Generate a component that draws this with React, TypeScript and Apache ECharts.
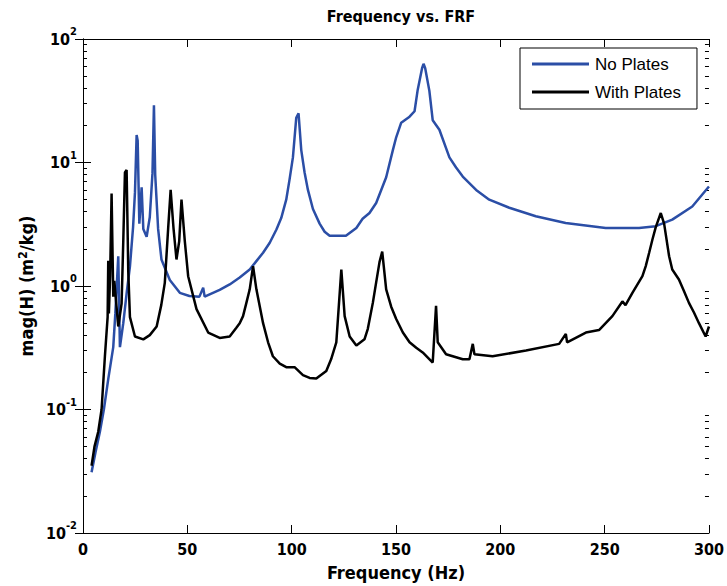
import React, { useEffect, useRef } from "react";
import * as echarts from "echarts";

const titleText = "Frequency vs. FRF";
const xName = "Frequency (Hz)";
const yName = "mag(H) (m{sup|2}/kg)";
const seriesNames = ["No Plates", "With Plates"];

const noPlatesFreq = [4.1, 6, 8.1, 10, 12.1, 14.5, 15.5, 16.9, 17.7, 19.3, 21, 22.5, 24, 24.9, 25.7, 26.2, 27, 28.1, 28.9, 30.5, 32, 33.3, 34, 34.6, 36, 37.6, 41.6, 46.4, 51, 55.8, 57.6, 58.3, 65.5, 70.3, 75.1, 79.9, 86.3, 89.5, 92.7, 95, 97.4, 99, 100.6, 102.2, 103.3, 104.6, 106.2, 107.8, 110.2, 113.4, 115.8, 118.2, 126, 131, 134, 137.3, 140.5, 145.3, 148.5, 150.1, 152.5, 156.5, 158.9, 160.4, 162.5, 163.2, 164, 166, 167.6, 170.8, 175.6, 178.8, 182, 188.4, 194.7, 204.3, 217, 231.3, 250.5, 266.5, 274.5, 282.4, 292, 300];
const noPlatesMag = [0.031, 0.045, 0.066, 0.1, 0.176, 0.32, 0.6, 1.74, 0.32, 0.5, 0.9, 1.44, 3, 5.7, 16.7, 15, 3.2, 6.3, 2.9, 2.5, 3.6, 8.2, 29, 8, 2.9, 1.64, 1.12, 0.88, 0.83, 0.82, 0.97, 0.82, 0.93, 1.03, 1.17, 1.36, 1.86, 2.24, 2.87, 3.55, 5.0, 7.3, 11, 23, 25, 12.6, 8.3, 6, 4.2, 3.2, 2.75, 2.55, 2.55, 2.95, 3.5, 3.9, 4.7, 7.6, 12.6, 16, 21, 23.5, 26, 38.7, 58, 63, 58, 38, 22, 18.4, 11, 9.1, 7.7, 6.0, 5.0, 4.3, 3.67, 3.24, 2.95, 2.95, 3.05, 3.45, 4.4, 6.4];

const withPlatesFreq = [4.1, 5.5, 7.3, 8.9, 10.5, 11.8, 12.1, 12.4, 13, 13.7, 14.5, 15, 16.9, 18.5, 19.3, 20.1, 20.9, 21.7, 22.5, 24.9, 28.9, 32, 35.3, 37.5, 39.2, 40.8, 42, 43.4, 44.8, 46.1, 47.2, 48.8, 50.4, 54.4, 60, 65.5, 70.3, 73.5, 75.1, 76.7, 78.3, 79.9, 81.5, 83.1, 86.3, 88.7, 91, 94.3, 97.4, 101.4, 105.4, 108.6, 111.8, 116.6, 118.9, 121.4, 123.8, 125.4, 127.8, 131, 134.9, 136.5, 138.9, 140.5, 142.1, 143.4, 145.3, 147.7, 150.1, 153.3, 156.5, 159.7, 162.8, 167.6, 169.2, 170, 174, 182, 185.2, 186.8, 187.6, 196.3, 212.3, 228.2, 231.4, 232, 241, 247.3, 253.7, 258.5, 260, 263.3, 268.1, 269.7, 271.3, 272.9, 274.5, 276.9, 278.5, 280.9, 282.4, 285.6, 288, 290.4, 292.8, 295.2, 298.4, 300];
const withPlatesMag = [0.035, 0.05, 0.066, 0.1, 0.27, 0.56, 1.6, 0.6, 1.2, 5.6, 0.82, 1.1, 0.47, 0.72, 2.3, 8.3, 8.7, 1.3, 0.56, 0.39, 0.37, 0.4, 0.47, 0.7, 1.06, 2.9, 6.0, 2.9, 1.64, 2.3, 5.0, 2.3, 1.2, 0.65, 0.42, 0.38, 0.39, 0.46, 0.5, 0.57, 0.73, 0.94, 1.45, 0.94, 0.5, 0.35, 0.27, 0.235, 0.22, 0.22, 0.19, 0.18, 0.178, 0.205, 0.255, 0.35, 1.36, 0.57, 0.39, 0.33, 0.37, 0.45, 0.73, 1.07, 1.56, 1.9, 0.94, 0.68, 0.54, 0.42, 0.35, 0.316, 0.29, 0.24, 0.69, 0.35, 0.28, 0.255, 0.255, 0.34, 0.28, 0.27, 0.3, 0.34, 0.41, 0.35, 0.42, 0.44, 0.57, 0.75, 0.7, 0.88, 1.2, 1.45, 1.85, 2.38, 3.0, 3.9, 3.2, 1.74, 1.36, 1.13, 0.91, 0.73, 0.61, 0.5, 0.39, 0.47];

const xMin = 0;
const xMax = 300;
const xInterval = 50;
const yMin = 0.01;
const yMax = 100;
const minorMultipliers = [2, 3, 4, 5, 6, 7, 8, 9];
const decades = [0.01, 0.1, 1, 10];

const FONT = "'Liberation Sans Narrow', 'DejaVu Sans Condensed', 'Liberation Sans', Arial, sans-serif";
const BLUE = "#2b4ea6";

export default function App() {
  const ref = useRef<HTMLDivElement>(null);
  useEffect(() => {
    if (!ref.current) return;
    const chart = echarts.init(ref.current, undefined, { renderer: "svg" });
    const minorVals: number[] = [];
    decades.forEach((d) => minorMultipliers.forEach((m) => minorVals.push(Number((d * m).toPrecision(3)))));

    const yLabel = (v: number) => {
      const e = Math.round(Math.log10(v));
      return "{b|10}{e|" + e + "}";
    };
    const yRich = {
      b: { fontSize: 16, fontWeight: "bold", fontFamily: FONT, color: "#000", lineHeight: 26 },
      e: { fontSize: 11, fontWeight: "bold", fontFamily: FONT, color: "#000", verticalAlign: "top", lineHeight: 11 },
    };

    const minorAxis = (pos: string) => ({
      type: "log",
      logBase: 10,
      min: yMin,
      max: yMax,
      position: pos,
      axisLine: { show: false },
      axisTick: { show: true, inside: true, length: 4, customValues: minorVals, lineStyle: { color: "#000", width: 1 } },
      axisLabel: { show: false },
      splitLine: { show: false },
    });

    chart.setOption({
      animation: false,
      backgroundColor: "#fff",
      title: {
        text: titleText,
        left: 396,
        textAlign: "center",
        top: 3,
        textStyle: { fontFamily: FONT, fontWeight: "bold", fontSize: 16, color: "#000" },
      },
      legend: {
        data: seriesNames,
        orient: "vertical",
        left: 520,
        top: 48,
        padding: [7, 16, 8, 12],
        itemGap: 10,
        itemWidth: 57,
        itemHeight: 3,
        icon: "rect",
        borderColor: "#000",
        borderWidth: 1,
        backgroundColor: "#fff",
        textStyle: { fontFamily: "'Liberation Sans', Arial, sans-serif", fontSize: 17, color: "#000", lineHeight: 18, padding: [0, 0, 0, 1] },
      },
      grid: { left: 83, right: 17, top: 39, bottom: 52, show: false },
      xAxis: [
        {
          type: "value",
          min: xMin,
          max: xMax,
          interval: xInterval,
          position: "bottom",
          name: xName,
          nameLocation: "middle",
          nameGap: 30,
          nameTextStyle: { fontFamily: FONT, fontWeight: "bold", fontSize: 18, color: "#000" },
          axisLine: { show: true, lineStyle: { color: "#000", width: 1 } },
          axisTick: { show: true, inside: true, length: 8, lineStyle: { color: "#000" } },
          axisLabel: { fontFamily: FONT, fontWeight: "bold", fontSize: 16, color: "#000", margin: 8 },
          splitLine: { show: false },
        },
        {
          type: "value",
          min: xMin,
          max: xMax,
          interval: xInterval,
          position: "top",
          axisLine: { show: true, lineStyle: { color: "#000", width: 1 } },
          axisTick: { show: true, inside: true, length: 8, lineStyle: { color: "#000" } },
          axisLabel: { show: false },
          splitLine: { show: false },
        },
      ],
      yAxis: [
        {
          type: "log",
          logBase: 10,
          min: yMin,
          max: yMax,
          position: "left",
          name: yName,
          nameLocation: "middle",
          nameGap: 44,
          nameRotate: 90,
          nameTextStyle: {
            fontFamily: FONT, fontWeight: "bold", fontSize: 18, color: "#000",
            rich: { sup: { fontFamily: FONT, fontWeight: "bold", fontSize: 12, color: "#000", verticalAlign: "top", lineHeight: 12 } },
          },
          axisLine: { show: true, lineStyle: { color: "#000", width: 1 } },
          axisTick: { show: true, inside: true, length: 8, lineStyle: { color: "#000" } },
          axisLabel: { formatter: yLabel, rich: yRich, margin: 6 },
          splitLine: { show: false },
        },
        {
          type: "log",
          logBase: 10,
          min: yMin,
          max: yMax,
          position: "right",
          axisLine: { show: true, lineStyle: { color: "#000", width: 1 } },
          axisTick: { show: true, inside: true, length: 8, lineStyle: { color: "#000" } },
          axisLabel: { show: false },
          splitLine: { show: false },
        },
        minorAxis("left"),
        minorAxis("right"),
      ],
      series: [
        {
          type: "line",
          name: seriesNames[0],
          xAxisIndex: 0,
          yAxisIndex: 0,
          data: noPlatesFreq.map((f, i) => [f, noPlatesMag[i]]),
          showSymbol: false,
          symbol: "none",
          lineStyle: { color: BLUE, width: 2.5 },
          itemStyle: { color: BLUE },
          z: 3,
        },
        {
          type: "line",
          name: seriesNames[1],
          xAxisIndex: 0,
          yAxisIndex: 0,
          data: withPlatesFreq.map((f, i) => [f, withPlatesMag[i]]),
          showSymbol: false,
          symbol: "none",
          lineStyle: { color: "#000", width: 2.5 },
          itemStyle: { color: "#000" },
          z: 4,
        },
      ],
    });
    return () => chart.dispose();
  }, []);
  return <div ref={ref} style={{ width: 727, height: 586, position: "absolute", left: 0, top: 0 }} />;
}
